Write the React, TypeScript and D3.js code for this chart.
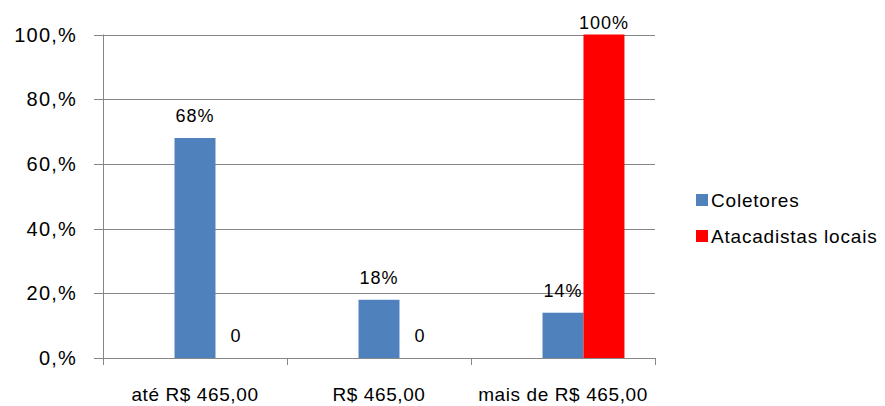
import React, { useEffect, useRef } from 'react';
import * as d3 from 'd3';

const categories = ['até R$ 465,00', 'R$ 465,00', 'mais de R$ 465,00'];
const seriesNames = ['Coletores', 'Atacadistas locais'];
const coletores = [0.68, 0.18, 0.14];
const atacadistas = [0, 0, 1.0];
const seriesColors = ['#4F81BD', '#FF0000'];
const yTicks = [0, 0.2, 0.4, 0.6, 0.8, 1.0];
const yTickLabels = ['0,%', '20,%', '40,%', '60,%', '80,%', '100,%'];

const App = () => {
    const ref = useRef(null);

    useEffect(() => {
        const svg = d3.select(ref.current);
        svg.selectAll('*').remove();

        const left = 103, right = 655, top = 34.5, bottom = 358;
        const font = 'Liberation Sans, Arial, sans-serif';
        const gridColor = '#868686';

        const x0 = d3.scaleBand().domain(categories).range([left, right]).padding(0);
        const bw = x0.bandwidth();
        // Excel layout leaves room for an empty first slot in each group
        const x1 = d3.scaleBand().domain(['_', ...seriesNames])
            .range([bw * 0.166, bw * 0.834]).padding(0);
        const y = d3.scaleLinear().domain([0, 1]).range([bottom, top]);

        // gridlines + y tick marks
        svg.append('g').selectAll('line')
            .data(yTicks)
            .enter()
            .append('line')
            .attr('x1', left - 9)
            .attr('x2', right)
            .attr('y1', d => Math.round(y(d)) + 0.5)
            .attr('y2', d => Math.round(y(d)) + 0.5)
            .attr('stroke', gridColor)
            .attr('stroke-width', 1);

        svg.append('g').selectAll('text')
            .data(yTicks)
            .enter()
            .append('text')
            .attr('x', 77)
            .attr('y', d => y(d) + 7)
            .attr('text-anchor', 'end')
            .style('font-family', font)
            .style('font-size', '20px')
            .style('letter-spacing', '1.2px')
            .attr('fill', '#000')
            .text((d, i) => yTickLabels[i]);

        // bars
        const rows = categories.map((c, i) => ({ cat: c, values: [coletores[i], atacadistas[i]] }));
        const groups = svg.append('g').selectAll('g')
            .data(rows)
            .enter()
            .append('g')
            .attr('transform', d => `translate(${x0(d.cat)},0)`);

        groups.selectAll('rect')
            .data(d => d.values.map((v, j) => ({ v, j })))
            .enter()
            .append('rect')
            .attr('x', d => x1(seriesNames[d.j]))
            .attr('y', d => y(d.v))
            .attr('width', x1.bandwidth())
            .attr('height', d => bottom - y(d.v))
            .attr('fill', d => seriesColors[d.j]);

        groups.selectAll('text')
            .data(d => d.values.map((v, j) => ({ v, j })))
            .enter()
            .append('text')
            .attr('x', d => x1(seriesNames[d.j]) + x1.bandwidth() / 2)
            .attr('y', d => Math.max(y(d.v) - 16, 29))
            .attr('text-anchor', 'middle')
            .style('font-family', font)
            .style('font-size', '18px')
            .style('letter-spacing', '1px')
            .attr('fill', '#000')
            .text(d => d.v === 0 ? '0' : `${Math.round(d.v * 100)}%`);

        // axes
        svg.append('line')
            .attr('x1', left + 0.5).attr('x2', left + 0.5)
            .attr('y1', top).attr('y2', bottom + 7)
            .attr('stroke', gridColor);
        svg.append('g').selectAll('line')
            .data(categories)
            .enter()
            .append('line')
            .attr('x1', d => Math.round(x0(d) + bw) + 0.5)
            .attr('x2', d => Math.round(x0(d) + bw) + 0.5)
            .attr('y1', bottom)
            .attr('y2', bottom + 7)
            .attr('stroke', gridColor);

        svg.append('g').selectAll('text')
            .data(categories)
            .enter()
            .append('text')
            .attr('x', d => x0(d) + bw / 2)
            .attr('y', 401)
            .attr('text-anchor', 'middle')
            .style('font-family', font)
            .style('font-size', '19px')
            .style('letter-spacing', '0.6px')
            .attr('fill', '#000')
            .text(d => d);

        // legend
        const legend = svg.append('g').selectAll('g')
            .data(seriesNames)
            .enter()
            .append('g')
            .attr('transform', (d, i) => `translate(696,${194 + i * 36})`);
        legend.append('rect')
            .attr('width', 12)
            .attr('height', 12)
            .attr('fill', (d, i) => seriesColors[i]);
        legend.append('text')
            .attr('x', 15)
            .attr('y', 13)
            .style('font-family', font)
            .style('font-size', '19px')
            .style('letter-spacing', '0.8px')
            .attr('fill', '#000')
            .text(d => d);
    }, []);

    return (
        <svg ref={ref} width={885} height={406}
            style={{ position: 'absolute', left: 0, top: 0, background: '#fff' }}></svg>
    );
};

export default App;
